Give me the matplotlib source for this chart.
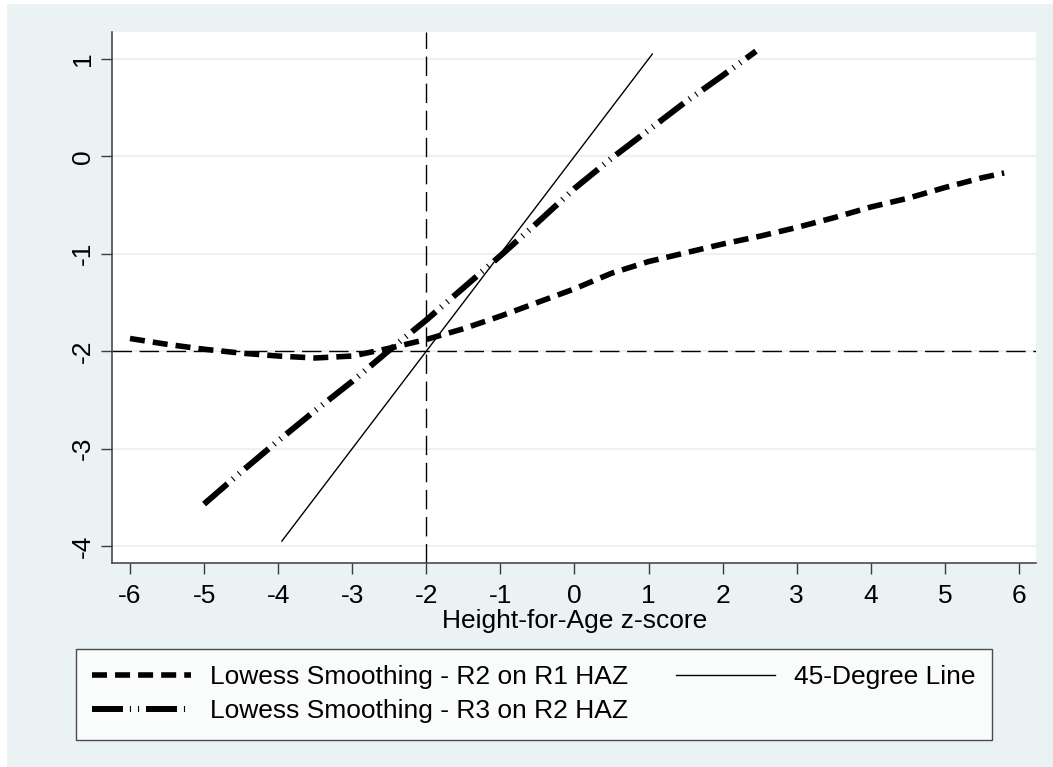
import matplotlib.pyplot as plt
from matplotlib.patches import Rectangle

# lowess smoothing, R2 HAZ on R1 HAZ
haz_r1 = [-6, -5.5, -5, -4.5, -4, -3.5, -3, -2.5, -2, -1.5, -1, -0.5, 0,
          0.5, 1, 1.5, 2, 2.5, 3, 3.5, 4, 4.5, 5, 5.5, 5.8]
fit_r2 = [-1.87, -1.93, -1.98, -2.02, -2.05, -2.07, -2.05, -1.97, -1.88,
          -1.77, -1.64, -1.50, -1.36, -1.20, -1.08, -0.99, -0.90, -0.82,
          -0.73, -0.63, -0.52, -0.43, -0.32, -0.22, -0.17]

# lowess smoothing, R3 HAZ on R2 HAZ
haz_r2 = [-5, -4.5, -4, -3.5, -3, -2.5, -2, -1.5, -1, -0.5, 0, 0.5, 1,
          1.5, 2, 2.45]
fit_r3 = [-3.57, -3.24, -2.92, -2.61, -2.31, -1.99, -1.68, -1.35, -1.02,
          -0.68, -0.33, -0.02, 0.27, 0.56, 0.83, 1.08]

# 45-degree line
diag = [-3.95, 1.05]

labels = ['Lowess Smoothing - R2 on R1 HAZ',
          'Lowess Smoothing - R3 on R2 HAZ',
          '45-Degree Line']
xticks = list(range(-6, 7))
yticks = list(range(-4, 2))
cutoff = -2

BG = '#EAF2F3'
W, H = 1053, 767

plt.rcParams['font.family'] = ['Liberation Sans', 'DejaVu Sans']
plt.rcParams['font.size'] = 19
plt.rcParams['axes.unicode_minus'] = False
plt.rcParams['lines.scale_dashes'] = False

fig = plt.figure(figsize=(W / 100, H / 100), dpi=100, facecolor='white')
fig.patches.append(Rectangle((7 / W, 0), 1 - 7 / W, 1 - 4 / H,
                             transform=fig.transFigure, facecolor=BG,
                             edgecolor='none', zorder=-10))

ax = fig.add_axes([112 / W, 1 - 563 / H, (1036 - 112) / W, (563 - 32) / H])
ax.set_facecolor('white')

# grid + reference lines
for yv in yticks:
    ax.axhline(yv, color=BG, lw=1.6, zorder=0.5)
ax.axvline(cutoff, color='black', lw=1.0, dashes=(14, 5.5), zorder=1)
ax.axhline(cutoff, color='black', lw=1.0, dashes=(14, 5.5), zorder=1)

l1, = ax.plot(haz_r1, fit_r2, color='black', lw=4.0,
              dashes=(10.8, 5.8), zorder=3)
l2, = ax.plot(haz_r2, fit_r3, color='black', lw=4.3,
              dashes=(22.3, 5.0, 0.8, 5.0, 0.8, 5.0), zorder=4)
l3, = ax.plot(diag, diag, color='black', lw=1.0, zorder=5)

ax.set_xlim(-6.243, 6.23)
ax.set_ylim(-4.175, 1.277)
ax.set_xticks(xticks)
ax.set_yticks(yticks)

for s in ['top', 'right']:
    ax.spines[s].set_visible(False)
for s in ['left', 'bottom']:
    ax.spines[s].set_color('#3c3c3c')
    ax.spines[s].set_linewidth(1.1)

ax.tick_params(axis='both', length=8, width=1.0, color='#3c3c3c',
               labelcolor='black')
ax.tick_params(axis='x', pad=7)
ax.tick_params(axis='y', pad=4)
plt.setp(ax.get_yticklabels(), rotation=90, va='center')

ax.set_xlabel('Height-for-Age z-score', va='baseline')
ax.xaxis.set_label_coords((575 - 112) / (1036 - 112), (563 - 628) / (563 - 32))

leg = fig.legend([l1, l2, l3], labels, ncol=2, mode='expand',
                 loc='upper left',
                 bbox_to_anchor=(76 / W, 1 - 649 / H, (992 - 76) / W, 0.0),
                 frameon=True, fancybox=False, shadow=False,
                 handlelength=3.75, handletextpad=0.72,
                 borderpad=0.62, labelspacing=0.38, borderaxespad=0)
leg.get_frame().set_edgecolor('#202020')
leg.get_frame().set_linewidth(1.0)
leg.get_frame().set_facecolor('white')

fig.savefig('out.png', dpi=100, facecolor=fig.get_facecolor())
